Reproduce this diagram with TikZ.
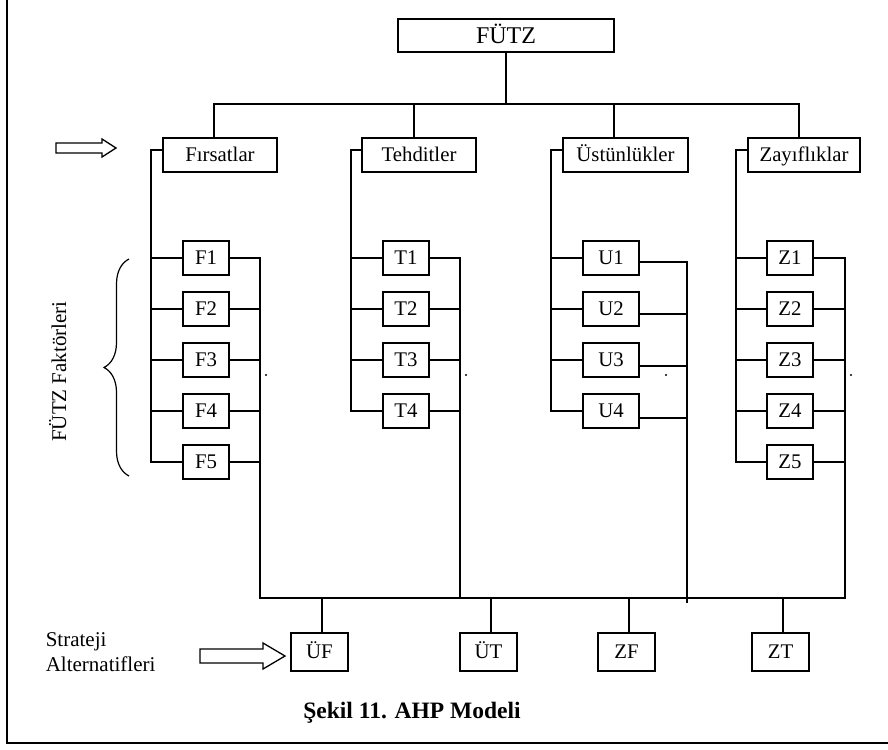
\documentclass[tikz,border=0pt]{standalone}
\usepackage{fontspec}
\setmainfont{Liberation Serif}
\usetikzlibrary{decorations.pathreplacing}
\begin{document}
\begin{tikzpicture}[x=1pt,y=-1pt,line width=1.6pt,
  lbl/.style={font=\fontsize{20.8}{25}\selectfont},
  box/.style={draw, lbl, inner sep=0pt, text height=13.8pt, text depth=0pt, minimum height=34pt},
  fac/.style={box, minimum width=46pt},
  ufac/.style={box, minimum width=56pt},
  catbox/.style={box},
  alt/.style={box, minimum width=57pt, minimum height=38pt},
  plain/.style={font=\fontsize{21}{25}\selectfont, inner sep=0pt},
  hollow/.style={line width=1.3pt},
  dotmark/.style={fill=black}
]
\useasboundingbox (0,0) rectangle (888,749);
% frame
\draw (7,-3) -- (7,743) -- (892,743);

% top node
\node[box, minimum width=216pt, minimum height=33pt, font=\fontsize{24}{29}\selectfont, text height=15.9pt] (futz) at (506,35.5) {FÜTZ};

% categories
\node[catbox, minimum width=114pt] (fir) at (220,155) {Fırsatlar};
\node[catbox, minimum width=114pt] (teh) at (419,155) {Tehditler};
\node[catbox, minimum width=125pt] (ust) at (625.5,155) {Üstünlükler};
\node[catbox, minimum width=112pt] (zay) at (804,155) {Zayıflıklar};

\coordinate (tb) at (0,104);
\coordinate (bus) at (0,598);
\coordinate (fr) at (260,0);
\coordinate (tr) at (460,0);
\coordinate (zr) at (845,0);
\coordinate (uend) at (687,603);

\draw (futz.south) -- (futz.south |- tb);
\draw ([xshift=-6pt]fir.north) |- (futz.south |- tb) -| ([xshift=-5pt]zay.north);
\draw ([xshift=-5pt]teh.north) coordinate (a1) -- (a1 |- tb);
\draw ([xshift=-11.5pt]ust.north) coordinate (a2) -- (a2 |- tb);

% factor boxes
\foreach \i in {1,...,5} {
  \node[fac] (f\i) at (206,{258+51*(\i-1)}) {F\i};
  \node[fac] (z\i) at (790,{258+51*(\i-1)}) {Z\i};
}
\foreach \i in {1,...,4} {
  \node[fac] (t\i) at (406,{258+51*(\i-1)}) {T\i};
  \node[ufac] (u\i) at (611,{258+51*(\i-1)}) {U\i};
}

% left brackets
\draw ([yshift=5pt]fir.west) -- ++(-11,0) coordinate (fl) |- (f5.west);
\draw ([yshift=5pt]teh.west) -- ++(-10,0) coordinate (tl) |- (t4.west);
\draw ([yshift=5pt]ust.west) -- ++(-11,0) coordinate (ul) |- (u4.west);
\draw ([yshift=5pt]zay.west) -- ++(-11,0) coordinate (zl) |- (z5.west);
\foreach \i in {1,...,4} {
  \draw (f\i.west) -- (f\i.west -| fl);
  \draw (z\i.west) -- (z\i.west -| zl);
}
\foreach \i in {1,...,3} {
  \draw (t\i.west) -- (t\i.west -| tl);
  \draw (u\i.west) -- (u\i.west -| ul);
}

% right collectors
\draw (f1.east) -| (fr |- bus) -- (zr |- bus) |- (z1.east);
\foreach \i in {2,...,5} {
  \draw (f\i.east) -- (f\i.east -| fr);
  \draw (z\i.east) -- (z\i.east -| zr);
}
\draw (t1.east) -| (tr |- bus);
\foreach \i in {2,...,4} {
  \draw (t\i.east) -- (t\i.east -| tr);
}
\draw ([yshift=-4pt]u1.east) -| (uend);
\draw ([yshift=-5pt]u2.east) coordinate (b2) -- (b2 -| uend);
\draw ([yshift=-6pt]u3.east) coordinate (b3) -- (b3 -| uend);
\draw ([yshift=-7pt]u4.east) coordinate (b4) -- (b4 -| uend);

% stray dots
\fill[dotmark] (266,375) circle (1.1pt);
\fill[dotmark] (466,375) circle (1.1pt);
\fill[dotmark] (666,375) circle (1.1pt);
\fill[dotmark] (851,375) circle (1.1pt);

% alternatives
\node[alt] (uf) at (319.5,652) {ÜF};
\node[alt] (ut) at (488.5,652) {ÜT};
\node[alt] (zf) at (626.5,652) {ZF};
\node[alt] (zt) at (780.5,652) {ZT};
\foreach \n in {uf,ut,zf,zt} {
  \draw ([xshift=2.5pt]\n.north) coordinate (c) -- (c |- bus);
}

% brace and side label
\draw[line width=1.2pt, decorate, decoration={brace, amplitude=25pt}] (129,476) -- (129,259);
\node[plain, rotate=90, anchor=base] (fk) at (66,371.5) {FÜTZ Faktörleri};

% hollow arrows
\draw[hollow] (56,143) -- (102,143) -- (102,139) -- (116,148) -- (102,157) -- (102,153) -- (56,153) -- cycle;
\draw[hollow] (200,649) -- (263,649) -- (263,643) -- (285,656) -- (263,669) -- (263,663) -- (200,663) -- cycle;

\node[plain, anchor=base west] (s1) at (45,646) {Strateji};
\node[plain, anchor=base west] (s2) at (45,671) {Alternatifleri};

% caption
\node[inner sep=0pt, anchor=base, font=\bfseries\fontsize{23.5}{28}\selectfont] (cap) at (412,718) {Şekil 11. AHP Modeli};
\end{tikzpicture}
\end{document}
